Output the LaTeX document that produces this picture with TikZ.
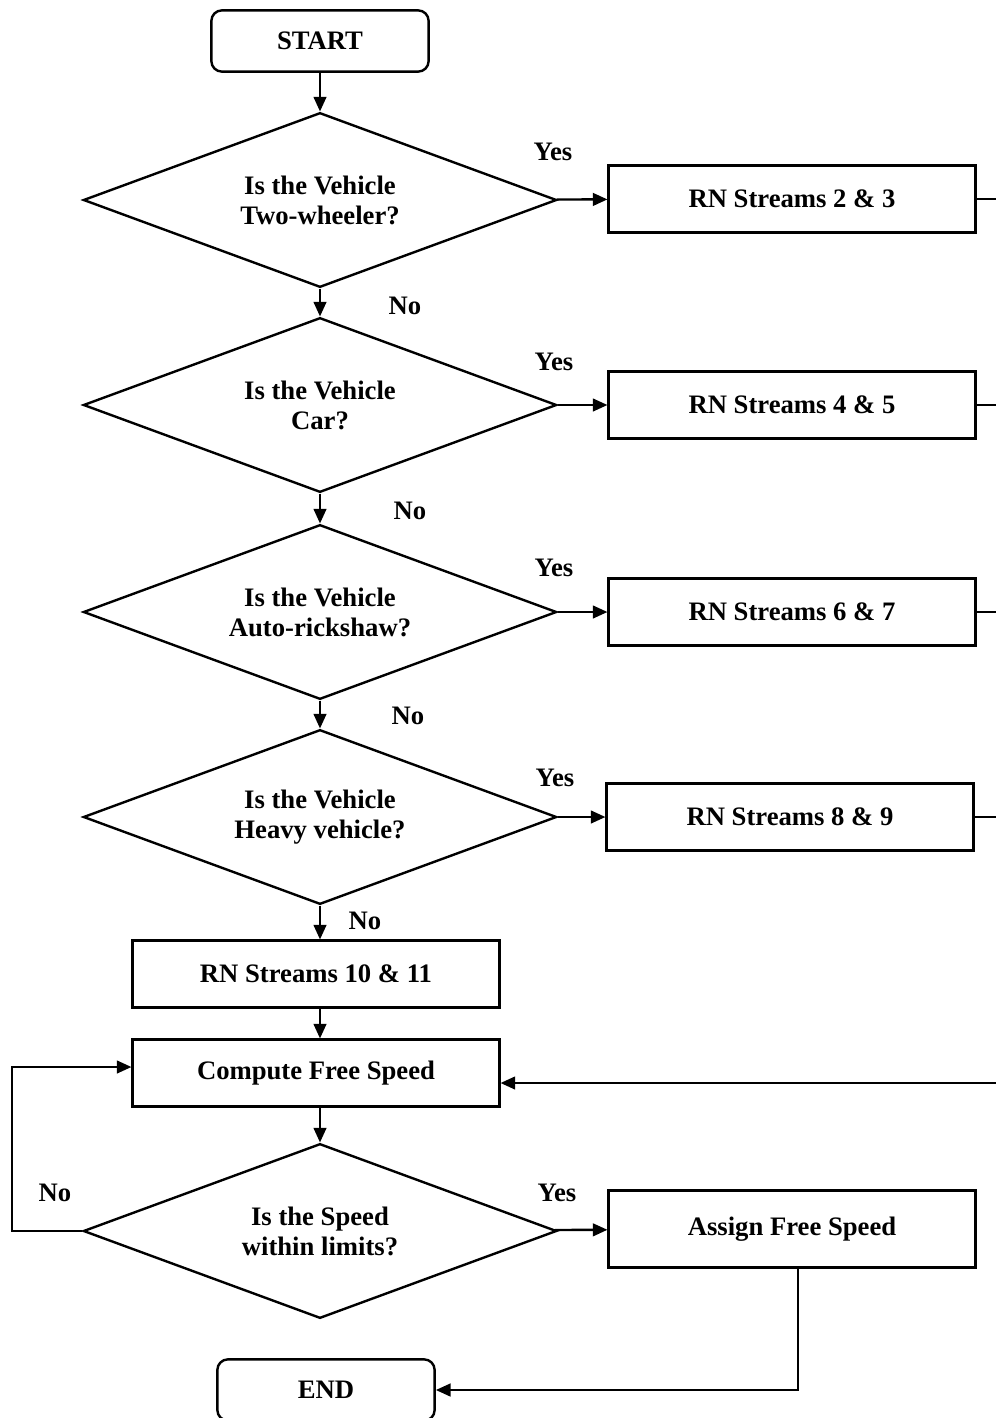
\documentclass[tikz,border=0pt]{standalone}
\usepackage{fontspec}
\setmainfont{Liberation Serif}
\usepackage{tikz}
\usetikzlibrary{shapes.geometric, arrows.meta}

\begin{document}
\begin{tikzpicture}[x=0.75pt, y=-0.75pt,
  every node/.style={font=\fontsize{20}{22.5}\selectfont\bfseries},
  terminal/.style={rectangle, draw, rounded corners=8pt, minimum width=163pt,
                   minimum height=46pt, line width=1.8pt},
  process/.style={rectangle, draw, minimum width=275pt, minimum height=50pt,
                  line width=1.8pt},
  decision/.style={diamond, draw, aspect=2.7, inner sep=0pt, align=center,
                   minimum width=355pt, minimum height=131pt, line width=1.8pt},
  line/.style={line width=1.8pt},
  arrow/.style={line, -{Triangle[length=11pt, width=9.5pt]}}
]
\useasboundingbox (0,0) rectangle (996,1418);

%% Terminals
\node[terminal] at (320, 41)   (start) {START};
\node[terminal] at (326, 1390) (stop)  {END};

%% Vehicle type decisions
\node[decision] at (320, 200)  (twoW)  {Is the Vehicle\\Two-wheeler?};
\node[decision] at (320, 405)  (car)   {Is the Vehicle\\Car?};
\node[decision] at (320, 612)  (auto)  {Is the Vehicle\\Auto-rickshaw?};
\node[decision] at (320, 817)  (heavy) {Is the Vehicle\\Heavy vehicle?};
\node[decision] at (320, 1231) (limit) {Is the Speed\\within limits?};

%% Random number streams
\node[process] at (792, 199)  (rn23)   {RN Streams 2 \& 3};
\node[process] at (792, 405)  (rn45)   {RN Streams 4 \& 5};
\node[process] at (792, 612)  (rn67)   {RN Streams 6 \& 7};
\node[process] at (790, 817)  (rn89)   {RN Streams 8 \& 9};
\node[process] at (316, 974)  (rn1011) {RN Streams 10 \& 11};
\node[process] at (316, 1073) (comp)   {Compute Free Speed};
\node[process, minimum height=58pt] at (792, 1229) (assign) {Assign Free Speed};

%% Main flow
\draw[arrow] (start) -- (twoW);
\draw[arrow] (twoW)  -- (car);
\draw[arrow] (car)   -- (auto);
\draw[arrow] (auto)  -- (heavy);
\draw[arrow] (heavy.south) -- (heavy.south |- rn1011.north);
\draw[arrow] (rn1011.south -| heavy) -- (comp.north -| heavy);
\draw[arrow] (comp.south -| limit) -- (limit.north);

%% Yes branches
\draw[arrow] (twoW)  -- (rn23);
\draw[arrow] (car)   -- (rn45);
\draw[arrow] (auto)  -- (rn67);
\draw[arrow] (heavy) -- (rn89);
\draw[arrow] (limit) -- (assign);

%% Returns at the right edge
\coordinate (ret1) at (996, 199);
\coordinate (ret2) at (996, 405);
\coordinate (ret3) at (996, 612);
\coordinate (ret4) at (996, 817);
\coordinate (retIn) at (996, 1083);
\draw[line] (rn23) -- (ret1);
\draw[line] (rn45) -- (ret2);
\draw[line] (rn67) -- (ret3);
\draw[line] (rn89) -- (ret4);
\draw[arrow] (retIn) -- (retIn -| comp.east);

%% Loop back and end
\coordinate (loopTop) at (12, 1067);
\draw[arrow] (limit.west) -| (loopTop) -- (loopTop -| comp.west);
\draw[arrow] ([xshift=4.5pt]assign.south) |- (stop.east);

%% Labels
\node at (553, 152)  (yes1) {Yes};
\node at (554, 362)  (yes2) {Yes};
\node at (554, 568)  (yes3) {Yes};
\node at (555, 778)  (yes4) {Yes};
\node at (557, 1193) (yes5) {Yes};
\node at (405, 306)  (no1)  {No};
\node at (410, 511)  (no2)  {No};
\node at (408, 716)  (no3)  {No};
\node at (365, 921)  (no4)  {No};
\node at (55, 1193)  (no5)  {No};
\end{tikzpicture}
\end{document}
